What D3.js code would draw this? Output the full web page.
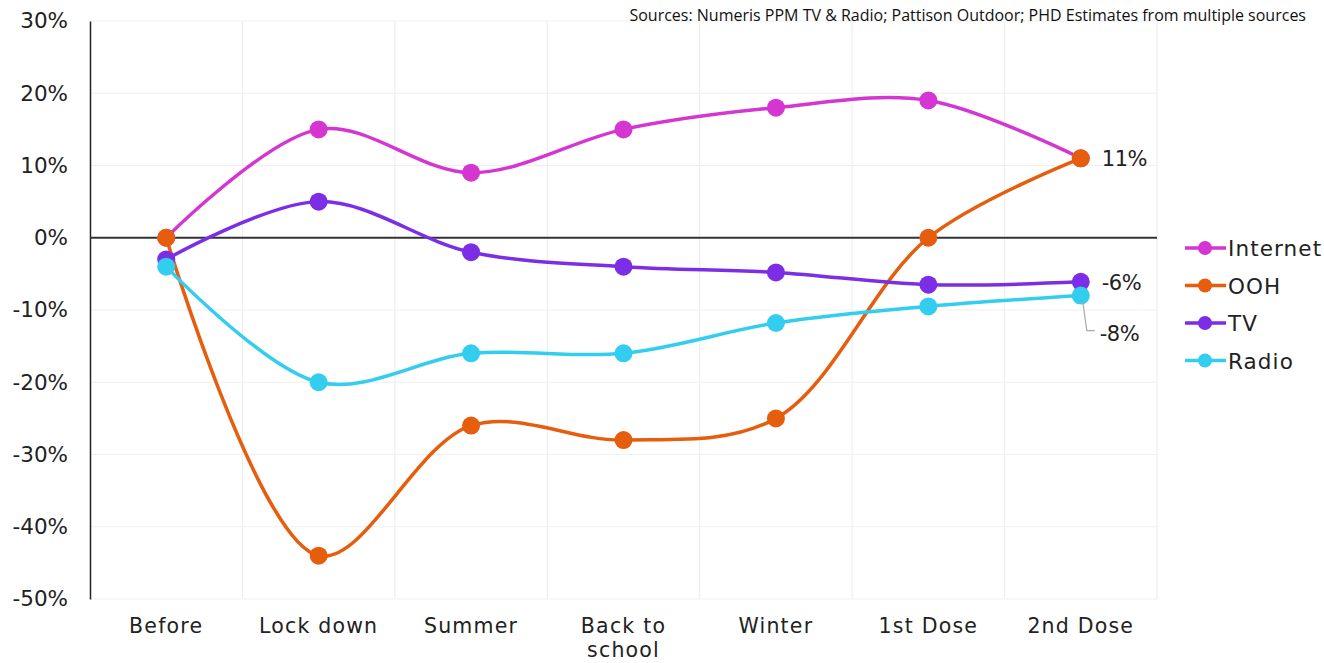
<!DOCTYPE html>
<html><head><meta charset="utf-8">
<script src="https://cdn.jsdelivr.net/npm/d3@7"></script>
<style>body{margin:0;background:#fff;} svg{display:block;}</style>
</head><body>
<svg id="c" width="1324" height="663"></svg>
<script>
const categories = [["Before"],["Lock down"],["Summer"],["Back to","school"],["Winter"],["1st Dose"],["2nd Dose"]];
const seriesNames = ["Internet","OOH","TV","Radio"];
const seriesColors = ["#d535d0","#e55d0d","#7b2ee6","#33cdef"];
const internet = [0,15,9,15,18,19,11];
const ooh = [0,-44,-26,-28,-25,0,11];
const tv = [-3,5,-2,-4,-4.8,-6.5,-6.1];
const radio = [-4,-20,-16,-16,-11.8,-9.5,-8];
const yTicks = [30,20,10,0,-10,-20,-30,-40,-50];
const endLabels = ["11%","-6%","-8%"];

const font = "DejaVu Sans";
const svg = d3.select("#c");
const m = {l:90, r:1157, t:21, b:599};
const x = d3.scaleBand().domain(d3.range(categories.length)).range([m.l, m.r]);
const y = d3.scaleLinear().domain([-50,30]).range([m.b, m.t]);
const cx = i => x(i) + x.bandwidth()/2;

// grid
const g = svg.append("g");
g.selectAll(".hg").data(yTicks).join("line")
  .attr("x1", m.l).attr("x2", m.r).attr("y1", d=>y(d)).attr("y2", d=>y(d))
  .attr("stroke", "#efefef").attr("stroke-width", 1.2);
g.selectAll(".vg").data(d3.range(1, categories.length+1)).join("line")
  .attr("x1", d=>x(d-1)+x.bandwidth()).attr("x2", d=>x(d-1)+x.bandwidth())
  .attr("y1", m.t).attr("y2", m.b)
  .attr("stroke", "#efefef").attr("stroke-width", 1.2);

// y axis
const yAxis = d3.axisLeft(y).tickValues(yTicks).tickSize(0).tickPadding(22).tickFormat(d => d + "%");
const ya = svg.append("g").attr("transform", `translate(${m.l},0)`).call(yAxis);
ya.select(".domain").attr("stroke", "#222").attr("stroke-width", 1.5);
ya.selectAll("text").attr("font-family", font).attr("font-size", 21.5).attr("fill", "#222");

// zero line
svg.append("line").attr("x1", m.l).attr("x2", m.r).attr("y1", y(0)).attr("y2", y(0))
  .attr("stroke", "#333").attr("stroke-width", 2);

// x labels
const xl = svg.append("g");
categories.forEach((lines, i) => {
  const t = xl.append("text").attr("x", cx(i)).attr("y", 633).attr("text-anchor", "middle")
    .attr("font-family", font).attr("font-size", 20.5).attr("letter-spacing", 1.2).attr("fill", "#222");
  lines.forEach((ln, j) => t.append("tspan").attr("x", cx(i)).attr("dy", j ? 24 : 0).text(ln));
});

// series
const data = [internet, ooh, tv, radio];
const line = d3.line().x((d,i)=>cx(i)).y(d=>y(d)).curve(d3.curveCatmullRom.alpha(0.5));
data.forEach((vals, k) => {
  const sg = svg.append("g");
  sg.append("path").attr("d", line(vals)).attr("fill", "none")
    .attr("stroke", seriesColors[k]).attr("stroke-width", 3.5);
  sg.selectAll("circle").data(vals).join("circle")
    .attr("cx", (d,i)=>cx(i)).attr("cy", d=>y(d)).attr("r", 9).attr("fill", seriesColors[k]);
});

// end labels
const last = categories.length - 1;
const lab = (tx, xx, yy) => svg.append("text").attr("x", xx).attr("y", yy).text(tx)
  .attr("font-family", font).attr("font-size", 21).attr("letter-spacing", -0.5).attr("fill", "#222");
lab(endLabels[0], cx(last)+21, y(ooh[last])+8);
lab(endLabels[1], cx(last)+21, y(tv[last])+8);
svg.append("path").attr("d", `M${cx(last)+2},${y(radio[last])+6} L${cx(last)+6},${y(radio[last])+35} L${cx(last)+14},${y(radio[last])+35}`)
  .attr("fill","none").attr("stroke","#aaa").attr("stroke-width",1.2);
lab(endLabels[2], cx(last)+19, y(radio[last])+45);

// legend
const lg = svg.append("g");
seriesNames.forEach((n, k) => {
  const yy = 248 + k*37.5;
  lg.append("line").attr("x1", 1185).attr("x2", 1226).attr("y1", yy).attr("y2", yy)
    .attr("stroke", seriesColors[k]).attr("stroke-width", 3.5);
  lg.append("circle").attr("cx", 1205).attr("cy", yy).attr("r", 7).attr("fill", seriesColors[k]);
  lg.append("text").attr("x", 1228).attr("y", yy+8).text(n)
    .attr("font-family", font).attr("font-size", 21.5).attr("letter-spacing", 1.1).attr("fill", "#222");
});

// source
svg.append("text").attr("x", 1306).attr("y", 21).attr("text-anchor", "end")
  .attr("font-family", "Open Sans").attr("font-size", 16).attr("fill", "#111")
  .text("Sources: Numeris PPM TV & Radio; Pattison Outdoor; PHD Estimates from multiple sources");
</script>
</body></html>
